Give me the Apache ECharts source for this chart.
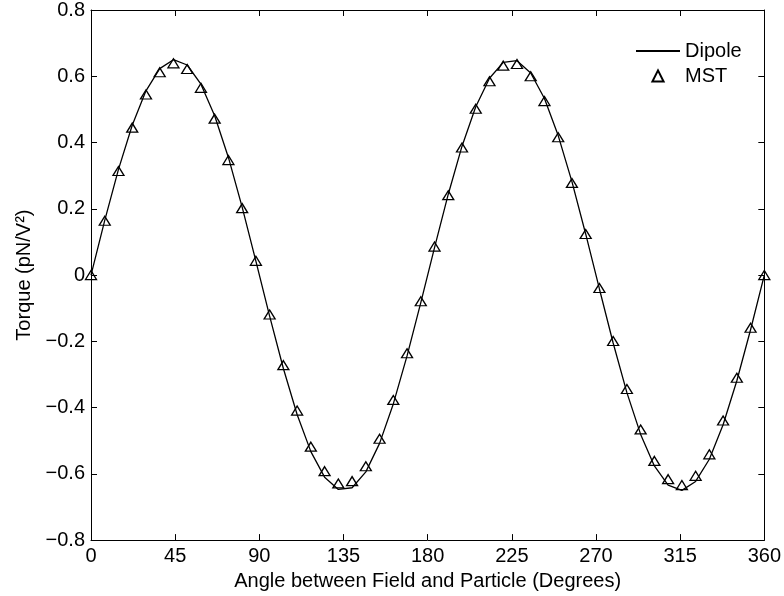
<!DOCTYPE html>
<html>
<head>
<meta charset="utf-8">
<title>Torque vs angle</title>
<script src="https://cdn.jsdelivr.net/npm/echarts@6/dist/echarts.min.js"></script>
<style>
	html, body { margin: 0; padding: 0; background: #fff; }
	#chart { width: 784px; height: 596px; }
</style>
</head>
<body>
<div id="chart"></div>
<script>
// angle samples (degrees)
var angles = [
	0, 7.35, 14.69, 22.04, 29.39, 36.73, 44.08, 51.43, 58.78, 66.12,
	73.47, 80.82, 88.16, 95.51, 102.86, 110.20, 117.55, 124.90, 132.24, 139.59,
	146.94, 154.29, 161.63, 168.98, 176.33, 183.67, 191.02, 198.37, 205.71, 213.06,
	220.41, 227.76, 235.10, 242.45, 249.80, 257.14, 264.49, 271.84, 279.18, 286.53,
	293.88, 301.22, 308.57, 315.92, 323.27, 330.61, 337.96, 345.31, 352.65, 360
];

// Dipole torque (solid line)
var dipole = [
	0, 0.165, 0.319, 0.452, 0.556, 0.623, 0.650, 0.634, 0.576, 0.481,
	0.355, 0.205, 0.042, -0.124, -0.282, -0.421, -0.533, -0.610, -0.647, -0.642,
	-0.594, -0.508, -0.389, -0.244, -0.083, 0.083, 0.244, 0.389, 0.508, 0.594,
	0.642, 0.647, 0.610, 0.533, 0.421, 0.282, 0.124, -0.042, -0.205, -0.355,
	-0.481, -0.576, -0.634, -0.650, -0.623, -0.556, -0.452, -0.319, -0.165, 0
];

// MST torque (triangles)
var mst = [
	0, 0.164, 0.314, 0.445, 0.545, 0.612, 0.639, 0.622, 0.565, 0.472,
	0.347, 0.202, 0.043, -0.119, -0.272, -0.409, -0.518, -0.592, -0.629, -0.622,
	-0.577, -0.494, -0.377, -0.236, -0.079, 0.086, 0.241, 0.385, 0.502, 0.585,
	0.632, 0.637, 0.600, 0.525, 0.416, 0.278, 0.124, -0.039, -0.199, -0.344,
	-0.466, -0.561, -0.616, -0.634, -0.606, -0.541, -0.439, -0.310, -0.159, 0
];

var xTicks = { min: 0, max: 360, interval: 45 };
var yTicks = { min: -0.8, max: 0.8, interval: 0.2 };

var font = "'Liberation Sans', Arial, Helvetica, sans-serif";

function pairs(xs, ys) {
	var out = [];
	for (var i = 0; i < xs.length; i++)
	{
		out.push([xs[i], ys[i]]);
	}
	return out;
}

function yfmt(v) {
	if (Math.abs(v) < 1e-9)
		return "0";
	var s = v.toFixed(1);
	return s.replace("-", "\u2212");
}

var tickStyle = {
	show: true,
	inside: true,
	length: 6,
	lineStyle: { color: "#000", width: 1 }
};

var lineAxis = {
	show: true,
	onZero: false,
	lineStyle: { color: "#000", width: 1 }
};

var chart = echarts.init(document.getElementById("chart"), null, { renderer: "canvas" });

var opt = {
	animation: false,
	backgroundColor: "#fff",
	textStyle: { fontFamily: font },
	grid: {
		left: 91,
		right: 17,
		top: 9,
		bottom: 54
	},
	legend: {
		orient: "vertical",
		left: 635,
		top: 41,
		padding: 0,
		itemWidth: 44,
		itemHeight: 14,
		itemGap: 5,
		textStyle: { fontSize: 20, color: "#000", fontFamily: font, lineHeight: 20 },
		data: [
			{ name: "Dipole", itemStyle: { opacity: 0 } },
			"MST"
		]
	},
	xAxis: [
		{
			type: "value",
			position: "bottom",
			min: xTicks.min,
			max: xTicks.max,
			interval: xTicks.interval,
			name: "Angle between Field and Particle (Degrees)",
			nameLocation: "middle",
			nameGap: 27,
			nameTextStyle: { fontSize: 20, color: "#000", fontFamily: font },
			axisLine: lineAxis,
			axisTick: tickStyle,
			axisLabel: { fontSize: 20, color: "#000", margin: 6, fontFamily: font },
			splitLine: { show: false }
		},
		{
			type: "value",
			position: "top",
			min: xTicks.min,
			max: xTicks.max,
			interval: xTicks.interval,
			axisLine: lineAxis,
			axisTick: tickStyle,
			axisLabel: { show: false },
			splitLine: { show: false }
		}
	],
	yAxis: [
		{
			type: "value",
			position: "left",
			min: yTicks.min,
			max: yTicks.max,
			interval: yTicks.interval,
			name: "Torque (pN/V\u00B2)",
			nameLocation: "middle",
			nameGap: 54,
			nameTextStyle: { fontSize: 20, color: "#000", fontFamily: font },
			axisLine: lineAxis,
			axisTick: tickStyle,
			axisLabel: { fontSize: 20, color: "#000", margin: 6, fontFamily: font, formatter: yfmt },
			splitLine: { show: false }
		},
		{
			type: "value",
			position: "right",
			min: yTicks.min,
			max: yTicks.max,
			interval: yTicks.interval,
			axisLine: lineAxis,
			axisTick: tickStyle,
			axisLabel: { show: false },
			splitLine: { show: false }
		}
	],
	series: [
		{
			name: "Dipole",
			type: "line",
			xAxisIndex: 0,
			yAxisIndex: 0,
			symbol: "none",
			smooth: false,
			lineStyle: { color: "#000", width: 1.3 },
			itemStyle: { color: "rgba(0,0,0,0)" },
			data: pairs(angles, dipole)
		},
		{
			name: "MST",
			type: "line",
			xAxisIndex: 0,
			yAxisIndex: 0,
			symbol: "triangle",
			symbolSize: [11, 9],
			showSymbol: true,
			lineStyle: { opacity: 0 },
			itemStyle: { color: "rgba(255,255,255,0)", borderColor: "#000", borderWidth: 1.3 },
			data: pairs(angles, mst),
			z: 3
		}
	]
};

chart.setOption(opt);
</script>
</body>
</html>
